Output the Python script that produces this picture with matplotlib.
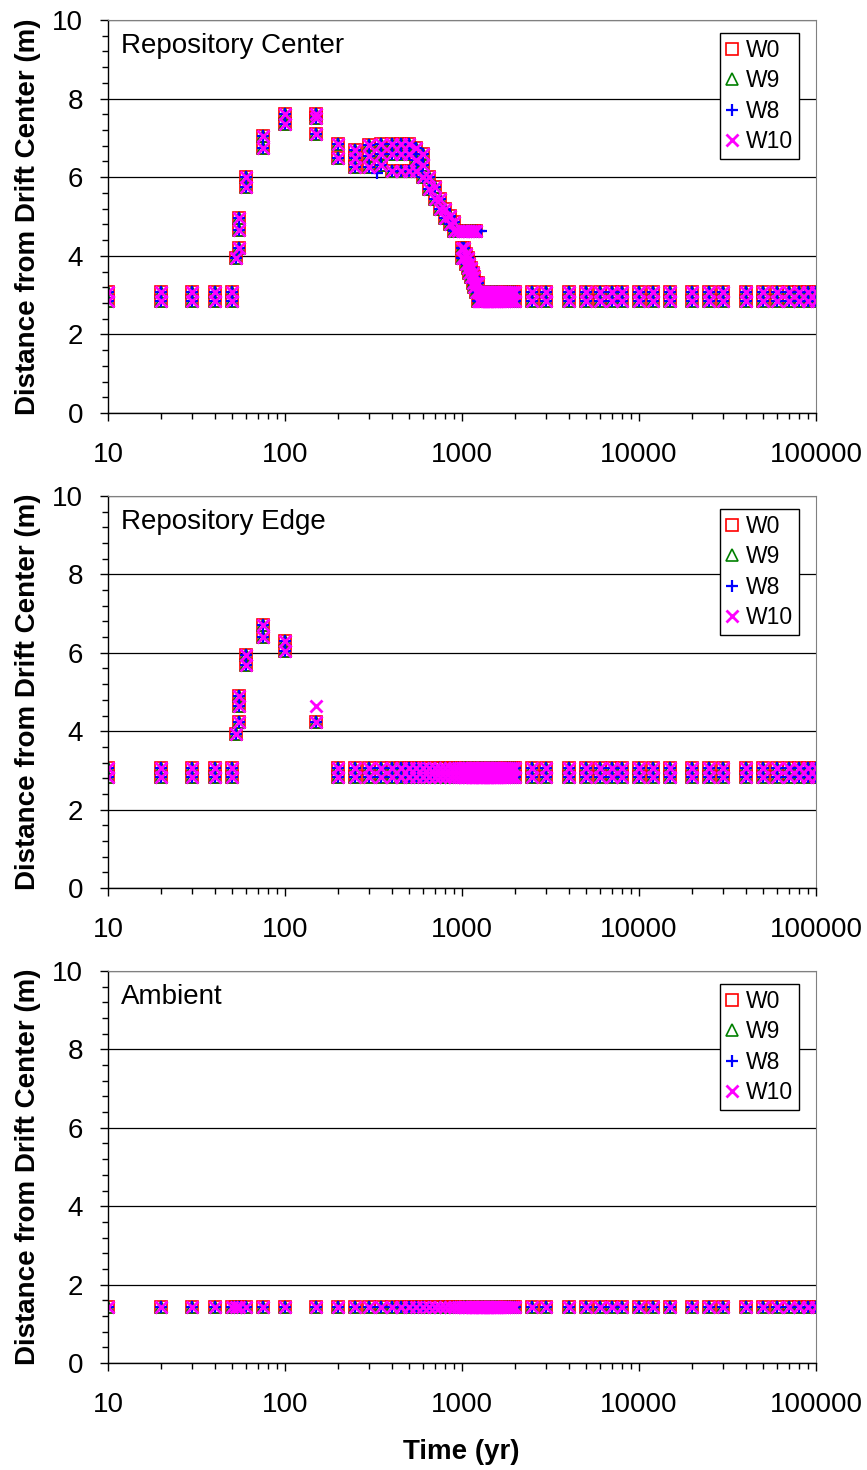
import matplotlib
matplotlib.use("Agg")
import matplotlib.pyplot as plt
from matplotlib.ticker import MultipleLocator, LogLocator, FuncFormatter, NullFormatter

plt.rcParams['font.family'] = ['Liberation Sans', 'DejaVu Sans']

# ---- series styling -------------------------------------------------------
series_names = ["W0", "W9", "W8", "W10"]
series_colors = ["#FF0000", "#008000", "#0000FF", "#FF00FF"]
series_markers = ["s", "^", "+", "x"]

# ---- output times (yr) ----------------------------------------------------
early_times = [10, 20, 30, 40, 50]
heating_times = [53, 55, 60, 75, 100, 150]
mid_times = [200, 250, 300, 350, 400, 450, 500, 550, 600, 650, 700, 750,
             800, 850, 900, 950]
transition_times = [1000, 1025, 1050, 1075, 1100, 1125, 1150, 1175, 1200, 1225]
dense_times = [1000, 1020, 1040, 1060, 1080, 1100, 1120, 1140, 1160, 1180,
               1200, 1220, 1240, 1260, 1280, 1300, 1320, 1340, 1360, 1380,
               1400, 1420, 1440, 1460, 1480, 1500, 1520, 1540, 1560, 1580,
               1600, 1650, 1700, 1750, 1800, 1850, 1900, 1950, 2000]
late_times = [2500, 3000, 4000, 5000, 6000, 7000, 8000, 10000, 12000, 15000,
              20000, 25000, 30000, 40000, 50000, 60000, 70000, 80000, 90000,
              100000]

# ---- boiling-front distances (m) -------------------------------------------
rest_levels = [2.84, 3.07]      # grid nodes next to the drift wall
ambient_levels = [1.42]

center_heating = [[3.95], [4.2, 4.65, 4.95], [5.75, 6.0], [6.75, 7.05],
                  [7.35, 7.6], [7.1, 7.5, 7.62]]
center_mid = [[6.5, 6.85], [6.27, 6.5, 6.7], [6.27, 6.55, 6.83], [6.3, 6.6, 6.85],
              [6.15, 6.6, 6.85], [6.15, 6.6, 6.85], [6.15, 6.6, 6.85],
              [6.15, 6.45, 6.75], [6.0, 6.3, 6.6], [5.7, 6.0], [5.45, 5.75],
              [5.2, 5.45], [4.95, 5.2], [4.8, 5.0], [4.62, 4.85], [4.62]]
center_transition = [[3.95, 4.2, 4.62], [3.95, 4.2, 4.62], [3.8, 4.05, 4.62],
                     [3.7, 3.95, 4.62], [3.55, 3.8, 4.62], [3.45, 3.7, 4.62],
                     [3.3, 3.55, 4.62], [3.2, 3.45, 4.62], [3.07, 3.3, 4.62],
                     [2.84, 3.07, 3.3]]

edge_heating = [[3.93], [4.23, 4.65, 4.9], [5.7, 5.95], [6.4, 6.7],
                [6.05, 6.3], [4.23]]

# extra nodes reached by single stations
center_w8_extra_t = [330, 1250, 1275]
center_w8_extra_d = [6.1, 4.62, 4.62]
edge_w10_extra_t = [150]
edge_w10_extra_d = [4.65]


def expand(times, levels):
    xs, ys = [], []
    for t, lv in zip(times, levels):
        for d in lv:
            xs.append(t)
            ys.append(d)
    return xs, ys


def constant(times, lv):
    return expand(times, [lv] * len(times))


def join(*parts):
    xs, ys = [], []
    for px, py in parts:
        xs += list(px)
        ys += list(py)
    return xs, ys


center_x, center_y = join(
    constant(early_times, rest_levels),
    expand(heating_times, center_heating),
    expand(mid_times, center_mid),
    expand(transition_times, center_transition),
    constant([t for t in dense_times if t >= 1240], rest_levels),
    constant(late_times, rest_levels),
)
edge_x, edge_y = join(
    constant(early_times, rest_levels),
    expand(heating_times, edge_heating),
    constant(mid_times, rest_levels),
    constant(dense_times, rest_levels),
    constant(late_times, rest_levels),
)
amb_x, amb_y = join(
    constant(early_times + heating_times + mid_times + dense_times + late_times,
             ambient_levels),
)

panels = [
    ("Repository Center", center_x, center_y,
     {"W8": (center_w8_extra_t, center_w8_extra_d)}),
    ("Repository Edge", edge_x, edge_y,
     {"W10": (edge_w10_extra_t, edge_w10_extra_d)}),
    ("Ambient", amb_x, amb_y, {}),
]

# ---- figure ----------------------------------------------------------------
W, H = 867, 1470
fig = plt.figure(figsize=(W / 100, H / 100), dpi=100)
left, right = 108, 816
tops = [20, 496, 971]
bottoms = [413, 888, 1363]

tick_fs = 20
label_fs = 20

for (title, xs, ys, extras), top, bot in zip(panels, tops, bottoms):
    ax = fig.add_axes([left / W, 1 - bot / H, (right - left) / W, (bot - top) / H])
    for name, col, mk in zip(series_names, series_colors, series_markers):
        px, py = list(xs), list(ys)
        if name in extras:
            px += extras[name][0]
            py += extras[name][1]
        if mk == "s":
            ax.plot(px, py, ls="none", marker=mk, ms=8.5, mfc="none",
                    mec=col, mew=1.2, label=name)
        elif mk == "^":
            ax.plot(px, py, ls="none", marker=mk, ms=9, mfc="none",
                    mec=col, mew=1.2, label=name)
        elif mk == "+":
            ax.plot(px, py, ls="none", marker=mk, ms=9, color=col,
                    mew=1.6, label=name)
        else:
            ax.plot(px, py, ls="none", marker=mk, ms=8.5, color=col,
                    mew=2.0, label=name)

    ax.set_xscale("log")
    ax.set_xlim(10, 100000)
    ax.set_ylim(0, 10)
    ax.xaxis.set_major_locator(LogLocator(base=10, numticks=10))
    ax.xaxis.set_minor_locator(LogLocator(base=10, subs=range(2, 10), numticks=10))
    ax.xaxis.set_major_formatter(FuncFormatter(lambda v, p: f"{int(round(v))}"))
    ax.xaxis.set_minor_formatter(NullFormatter())
    ax.yaxis.set_major_locator(MultipleLocator(2))
    ax.yaxis.set_minor_locator(MultipleLocator(0.4))
    ax.yaxis.set_major_formatter(FuncFormatter(lambda v, p: f"{int(round(v))}"))

    ax.set_axisbelow(True)
    ax.grid(axis="y", which="major", color="black", lw=0.9)

    for s in ("top", "right"):
        ax.spines[s].set_color("#808080")
    for s in ("left", "bottom"):
        ax.spines[s].set_color("black")
        ax.spines[s].set_linewidth(1.0)

    ax.tick_params(axis="x", which="major", direction="out", length=6,
                   width=1, labelsize=tick_fs, pad=15)
    ax.tick_params(axis="x", which="minor", direction="out", length=4.5, width=1)
    ax.tick_params(axis="y", which="major", direction="out", length=6,
                   width=1, labelsize=tick_fs, pad=12)
    ax.tick_params(axis="y", which="minor", direction="out", length=4, width=1)

    ax.set_ylabel("Distance from Drift Center (m)", fontsize=label_fs,
                  fontweight="bold")
    ax.yaxis.set_label_coords(-0.095, 0.5)

    ax.text(0.018, 0.933, title, transform=ax.transAxes, fontsize=tick_fs,
            ha="left", va="center")

    leg = ax.legend(loc="upper right", bbox_to_anchor=(0.976, 0.967),
                    numpoints=1, fontsize=16.5, frameon=True, fancybox=False,
                    framealpha=1, edgecolor="black", borderpad=0.25,
                    labelspacing=0.33, handlelength=0.6, handletextpad=0.3,
                    borderaxespad=0)
    leg.get_frame().set_linewidth(1.0)

fig.text(461 / W, 1 - 1452 / H, "Time (yr)", fontsize=label_fs,
         fontweight="bold", ha="center", va="center")

fig.savefig("out.png", dpi=100)
